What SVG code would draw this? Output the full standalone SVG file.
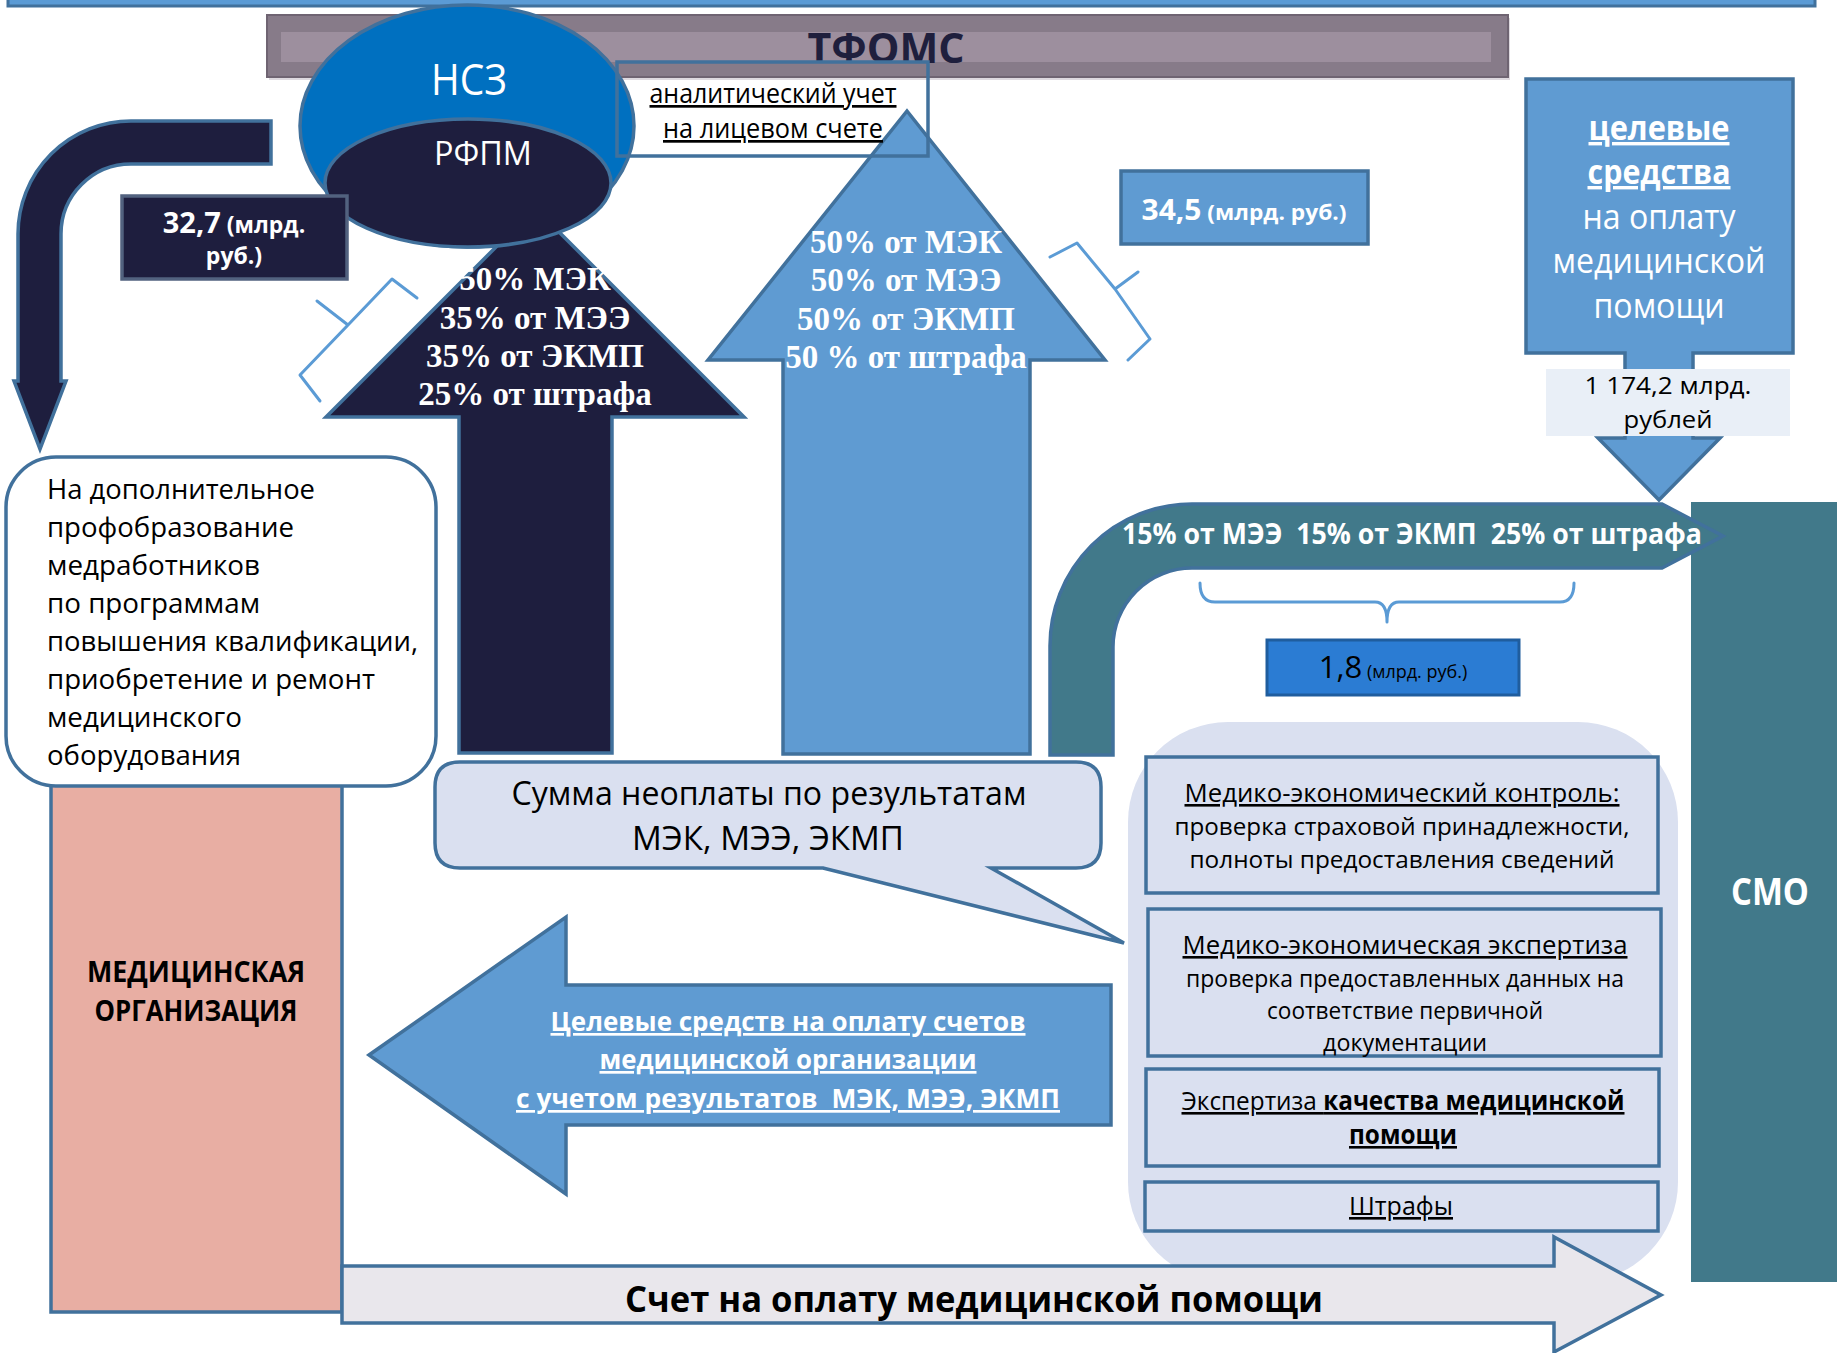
<svg xmlns="http://www.w3.org/2000/svg" width="1837" height="1353" viewBox="0 0 1837 1353">
<style>
.st{stroke:#41719c;stroke-width:3.5}
.lb{fill:#5f9bd2}
.nv{fill:#1e1e3e}
.tl{fill:#41798a}
.lv{fill:#dae0f0}
.brace{fill:none;stroke:#5b9bd5;stroke-width:3;stroke-linejoin:round;stroke-linecap:round}
text{font-family:"Open Sans","Noto Sans","DejaVu Sans",sans-serif;fill:#000}
.sf{font-family:"Liberation Serif","Times New Roman",serif;font-weight:bold;fill:#fff;font-size:33px;text-anchor:middle}
.w{fill:#fff}
.b{font-weight:bold}
.c{text-anchor:middle}
.u{text-decoration:underline}
</style>
<rect width="1837" height="1353" fill="#fff"/>

<g id="nodes-back">
  <g id="top-band"><rect x="8" y="-10" width="1807" height="16" fill="#5b9bd5" stroke="#41719c" stroke-width="3"/></g>
  <g id="tfoms">
    <rect x="269" y="18" width="1241" height="62" fill="#c8c0c9" opacity="0.6"/>
    <rect x="267" y="15" width="1241" height="62" fill="#877b89" stroke="#6f6472" stroke-width="2"/>
    <rect x="281" y="32" width="1210" height="30" fill="#9d8f9e"/>
    <text x="886" y="63" class="c b" font-size="42" style="fill:#1f1f3d" textLength="157" lengthAdjust="spacingAndGlyphs">ТФОМС</text>
  </g>
  <g id="med-org">
    <rect x="51" y="770" width="291" height="542" fill="#e8aea3" class="st"/>
    <text x="196" y="982" class="c b" font-size="28" textLength="218" lengthAdjust="spacingAndGlyphs">МЕДИЦИНСКАЯ</text>
    <text x="196" y="1021" class="c b" font-size="28" textLength="203" lengthAdjust="spacingAndGlyphs">ОРГАНИЗАЦИЯ</text>
  </g>
  <g id="smo">
    <rect x="1691" y="502" width="160" height="780" class="tl"/>
    <text x="1770" y="905" class="c b w" font-size="38" textLength="78" lengthAdjust="spacingAndGlyphs">СМО</text>
  </g>
  <g id="control-container">
    <rect x="1128" y="722" width="550" height="560" rx="100" ry="100" class="lv"/>
  </g>
</g>

<g id="connectors">
  <g id="arrow-32-7">
    <path d="M271,121 L131,121 A113,113 0 0 0 18,234 L18,381 L14,381 L40,449 L66,381 L61,381 L61,234 A70,70 0 0 1 131,164 L271,164 Z" class="nv st"/>
  </g>
  <g id="arrow-rfpm">
    <path d="M535,208 L744,417 L612,417 L612,753 L459,753 L459,417 L326,417 Z" class="nv st"/>
    <text class="sf" x="535" y="290">50% МЭК</text>
    <text class="sf" x="535" y="329">35% от МЭЭ</text>
    <text class="sf" x="535" y="367">35% от ЭКМП</text>
    <text class="sf" x="535" y="405">25% от штрафа</text>
  </g>
  <g id="arrow-tfoms">
    <path d="M907,111 L1105,360 L1030,360 L1030,754 L783,754 L783,360 L708,360 Z" class="lb st"/>
    <text class="sf" x="906" y="253">50% от МЭК</text>
    <text class="sf" x="906" y="291">50% от МЭЭ</text>
    <text class="sf" x="906" y="330">50% от ЭКМП</text>
    <text class="sf" x="906" y="368">50 % от штрафа</text>
  </g>
  <g id="arrow-smo-tfoms">
    <path d="M1050,755 L1050,646 A142,142 0 0 1 1192,504 L1662,504 L1723,536 L1662,568 L1192,568 A79,79 0 0 0 1113,647 L1113,755 Z" class="tl st"/>
    <text x="1412" y="544" class="c b w" font-size="29" xml:space="preserve" style="white-space:pre" textLength="580" lengthAdjust="spacingAndGlyphs">15% от МЭЭ  15% от ЭКМП  25% от штрафа</text>
  </g>
  <g id="arrow-payment">
    <path d="M369,1055 L566,917 L566,985 L1111,985 L1111,1125 L566,1125 L566,1194 Z" class="lb st"/>
    <text x="788" y="1031" class="c b w u" font-size="27" textLength="475" lengthAdjust="spacingAndGlyphs">Целевые средств на оплату счетов</text>
    <text x="788" y="1069" class="c b w u" font-size="27" textLength="377" lengthAdjust="spacingAndGlyphs">медицинской организации</text>
    <text x="788" y="1108" class="c b w u" font-size="27" xml:space="preserve" style="white-space:pre" textLength="544" lengthAdjust="spacingAndGlyphs">с учетом результатов  МЭК, МЭЭ, ЭКМП</text>
  </g>
  <g id="arrow-invoice">
    <path d="M342,1266 L1554,1266 L1554,1237 L1661,1295 L1554,1352 L1554,1323 L342,1323 Z" fill="#e9e7ec" class="st"/>
    <text x="974" y="1312" class="c b" font-size="35" textLength="698" lengthAdjust="spacingAndGlyphs">Счет на оплату медицинской помощи</text>
  </g>
  <g id="braces">
    <path class="brace" d="M417,298 L392,279 L348,325 L317,301 M348,325 L300,375 L320,401"/>
    <path class="brace" d="M1050,257 L1077,243 L1115,289 L1138,272 M1115,289 L1150,339 L1128,360"/>
    <path class="brace" d="M1200,583 Q1200,602 1215,602 L1375,602 Q1387,602 1387,622 Q1387,602 1399,602 L1560,602 Q1574,602 1574,583"/>
  </g>
</g>

<g id="nodes-front">
  <g id="nsz">
    <ellipse cx="467" cy="126" rx="167" ry="121" fill="#0070c0" class="st"/>
    <text x="469" y="95" class="c w" font-size="43" textLength="76" lengthAdjust="spacingAndGlyphs">НСЗ</text>
  </g>
  <g id="rfpm">
    <ellipse cx="468" cy="183" rx="143" ry="64" class="nv st"/>
    <text x="483" y="165" class="c w" font-size="32" textLength="98" lengthAdjust="spacingAndGlyphs">РФПМ</text>
  </g>
  <g id="analytic">
    <rect x="617" y="62" width="311" height="94" fill="none" class="st"/>
    <text x="773" y="103" class="c u" font-size="27" textLength="247" lengthAdjust="spacingAndGlyphs">аналитический учет</text>
    <text x="773" y="138" class="c u" font-size="27" textLength="220" lengthAdjust="spacingAndGlyphs">на лицевом счете</text>
  </g>
  <g id="sum-32-7">
    <rect x="122" y="196" width="225" height="83" class="nv" stroke="#52627f" stroke-width="3.5"/>
    <text x="234" y="233" class="c b w"><tspan font-size="29">32,7</tspan><tspan font-size="23"> (млрд.</tspan></text>
    <text x="234" y="264" class="c b w" font-size="23">руб.)</text>
  </g>
  <g id="sum-34-5">
    <rect x="1121" y="171" width="247" height="73" class="lb st"/>
    <text x="1244" y="220" class="c b w" textLength="205" lengthAdjust="spacingAndGlyphs"><tspan font-size="29">34,5</tspan><tspan font-size="22"> (млрд. руб.)</tspan></text>
  </g>
  <g id="target-funds">
    <path d="M1526,79 L1793,79 L1793,353 L1693,353 L1693,438 L1720,438 L1659,500 L1598,438 L1625,438 L1625,353 L1526,353 Z" class="lb st"/>
    <text x="1659" y="140" class="c b w u" font-size="34" textLength="141" lengthAdjust="spacingAndGlyphs">целевые</text>
    <text x="1659" y="184" class="c b w u" font-size="34" textLength="143" lengthAdjust="spacingAndGlyphs">средства</text>
    <text x="1659" y="229" class="c w" font-size="34" textLength="153" lengthAdjust="spacingAndGlyphs">на оплату</text>
    <text x="1659" y="273" class="c w" font-size="34" textLength="213" lengthAdjust="spacingAndGlyphs">медицинской</text>
    <text x="1659" y="318" class="c w" font-size="34" textLength="131" lengthAdjust="spacingAndGlyphs">помощи</text>
    <rect x="1546" y="369" width="244" height="67" fill="#e9eff7"/>
    <text x="1668" y="394" class="c" font-size="24" textLength="167" lengthAdjust="spacingAndGlyphs">1 174,2 млрд.</text>
    <text x="1668" y="428" class="c" font-size="24" textLength="89" lengthAdjust="spacingAndGlyphs">рублей</text>
  </g>
  <g id="sum-1-8">
    <rect x="1267" y="640" width="252" height="55" fill="#2b7cd3" stroke="#1f5d9e" stroke-width="3"/>
    <text x="1393" y="678" class="c"><tspan font-size="31">1,8</tspan><tspan font-size="18"> (млрд. руб.)</tspan></text>
  </g>
  <g id="training">
    <rect x="6" y="457" width="430" height="329" rx="50" ry="50" fill="#fff" class="st"/>
    <text font-size="28" x="47" y="498.5" textLength="268" lengthAdjust="spacingAndGlyphs">На дополнительное</text>
    <text font-size="28" x="47" y="536.6" textLength="247" lengthAdjust="spacingAndGlyphs">профобразование</text>
    <text font-size="28" x="47" y="574.7" textLength="213" lengthAdjust="spacingAndGlyphs">медработников</text>
    <text font-size="28" x="47" y="612.8" textLength="213" lengthAdjust="spacingAndGlyphs">по программам</text>
    <text font-size="28" x="47" y="650.9" textLength="371" lengthAdjust="spacingAndGlyphs">повышения квалификации,</text>
    <text font-size="28" x="47" y="689" textLength="328" lengthAdjust="spacingAndGlyphs">приобретение и ремонт</text>
    <text font-size="28" x="47" y="727.1" textLength="195" lengthAdjust="spacingAndGlyphs">медицинского</text>
    <text font-size="28" x="47" y="765.2" textLength="194" lengthAdjust="spacingAndGlyphs">оборудования</text>
  </g>
  <g id="unpaid">
    <path d="M460,762 L1076,762 Q1101,762 1101,787 L1101,843 Q1101,868 1076,868 L991,868 L1124,943 L823,868 L460,868 Q435,868 435,843 L435,787 Q435,762 460,762 Z" class="lv st"/>
    <text x="769" y="805" class="c" font-size="32" textLength="515" lengthAdjust="spacingAndGlyphs">Сумма неоплаты по результатам</text>
    <text x="768" y="850" class="c" font-size="32" textLength="272" lengthAdjust="spacingAndGlyphs">МЭК, МЭЭ, ЭКМП</text>
  </g>
  <g id="mek">
    <rect x="1146" y="757" width="512" height="136" class="lv st" stroke-width="4"/>
    <text x="1402" y="802" class="c u" font-size="26" textLength="435" lengthAdjust="spacingAndGlyphs">Медико-экономический контроль:</text>
    <text x="1402" y="835" class="c" font-size="24" textLength="455" lengthAdjust="spacingAndGlyphs">проверка страховой принадлежности,</text>
    <text x="1402" y="868" class="c" font-size="24" textLength="425" lengthAdjust="spacingAndGlyphs">полноты предоставления сведений</text>
  </g>
  <g id="mee">
    <rect x="1148" y="909" width="513" height="147" class="lv st" stroke-width="4"/>
    <text x="1405" y="954" class="c u" font-size="26" textLength="445" lengthAdjust="spacingAndGlyphs">Медико-экономическая экспертиза</text>
    <text x="1405" y="987" class="c" font-size="24" textLength="438" lengthAdjust="spacingAndGlyphs">проверка предоставленных данных на</text>
    <text x="1405" y="1019" class="c" font-size="24" textLength="276" lengthAdjust="spacingAndGlyphs">соответствие первичной</text>
    <text x="1405" y="1051" class="c" font-size="24" textLength="164" lengthAdjust="spacingAndGlyphs">документации</text>
  </g>
  <g id="ekmp">
    <rect x="1146" y="1069" width="513" height="97" class="lv st" stroke-width="4"/>
    <text x="1403" y="1110" class="c u" font-size="26" xml:space="preserve" style="white-space:pre" textLength="443" lengthAdjust="spacingAndGlyphs">Экспертиза <tspan class="b">качества медицинской</tspan></text>
    <text x="1403" y="1144" class="c u b" font-size="26" textLength="108" lengthAdjust="spacingAndGlyphs">помощи</text>
  </g>
  <g id="fines">
    <rect x="1145" y="1182" width="513" height="49" class="lv st" stroke-width="4"/>
    <text x="1401" y="1215" class="c u" font-size="26" textLength="104" lengthAdjust="spacingAndGlyphs">Штрафы</text>
  </g>
</g>
</svg>
